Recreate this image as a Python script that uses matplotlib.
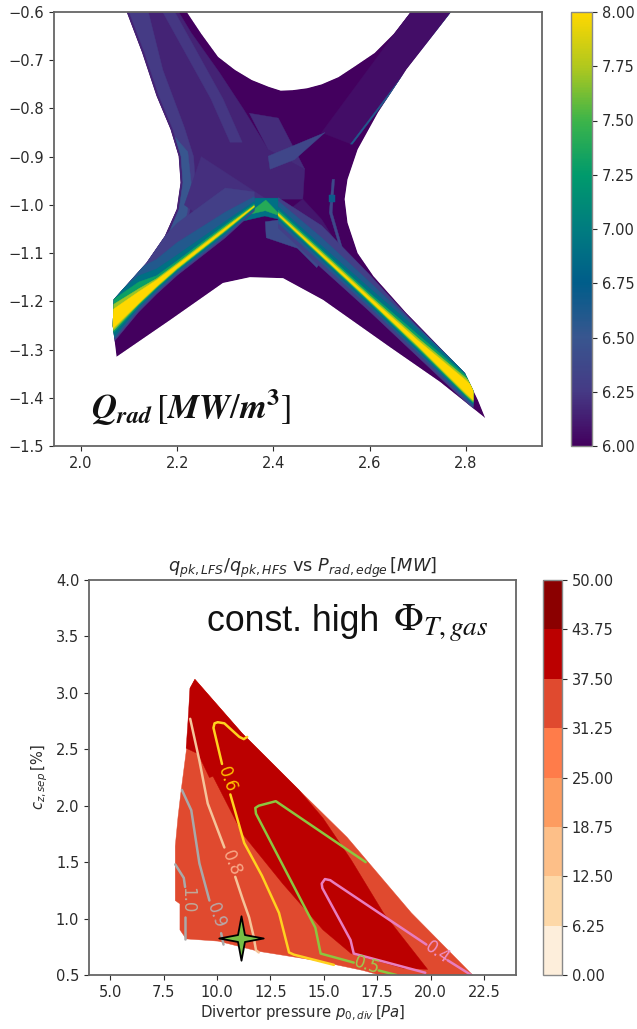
import numpy as np
import matplotlib
matplotlib.use("Agg")
import matplotlib.pyplot as plt
from matplotlib.collections import PolyCollection
from matplotlib.colors import Normalize, BoundaryNorm, LinearSegmentedColormap, ListedColormap
from matplotlib.cm import ScalarMappable
from matplotlib.patches import Polygon
from matplotlib.path import Path

# --- upper panel: Qrad map on the X-point divertor region
outline_r = [2.095, 2.127, 2.157, 2.186, 2.203, 2.207, 2.199, 2.174, 2.136, 2.068, 2.066, 2.074, 2.185, 2.295, 2.351,
             2.42, 2.503, 2.642, 2.746, 2.84, 2.825, 2.798, 2.676, 2.608, 2.575, 2.554, 2.548, 2.554, 2.575, 2.617,
             2.676, 2.769, 2.685, 2.65, 2.61, 2.57, 2.535, 2.50, 2.47, 2.44, 2.415, 2.39, 2.355, 2.32, 2.285, 2.25, 2.22]
outline_z = [-0.6, -0.684, -0.774, -0.843, -0.899, -0.954, -1.009, -1.065, -1.12, -1.196, -1.25, -1.315, -1.239, -1.162,
             -1.15, -1.152, -1.197, -1.295, -1.367, -1.442, -1.405, -1.349, -1.224, -1.148, -1.10, -1.037, -0.988,
             -0.947, -0.885, -0.809, -0.719, -0.6, -0.6, -0.645, -0.685, -0.712, -0.735, -0.75, -0.758, -0.762, -0.763,
             -0.755, -0.741, -0.72, -0.693, -0.645, -0.6]

# patches of nearly constant Qrad, painted in order
centre_r = [2.095, 2.127, 2.157, 2.186, 2.203, 2.207, 2.199, 2.174, 2.136, 2.068, 2.385, 2.461, 2.465, 2.389, 2.338,
            2.288, 2.229, 2.203]
centre_z = [-0.6, -0.684, -0.774, -0.843, -0.899, -0.954, -1.009, -1.065, -1.12, -1.196, -0.988, -0.988, -0.926,
            -0.885, -0.802, -0.726, -0.643, -0.6]
edge_r = [2.10, 2.132, 2.162, 2.191, 2.208, 2.212, 2.204, 2.18, 2.142, 2.08, 2.11, 2.175, 2.222, 2.238, 2.234, 2.215,
          2.17, 2.14]
edge_z = [-0.6, -0.684, -0.774, -0.843, -0.899, -0.954, -1.009, -1.065, -1.12, -1.19, -1.19, -1.11, -1.03, -0.96,
          -0.90, -0.84, -0.72, -0.6]
edge2_r = [2.196, 2.208, 2.212, 2.204, 2.18, 2.165, 2.19, 2.22, 2.229, 2.222]
edge2_z = [-0.86, -0.899, -0.954, -1.009, -1.065, -1.09, -1.08, -1.02, -0.955, -0.89]
streak_r = [2.17, 2.27, 2.31, 2.335, 2.295, 2.195]
streak_z = [-0.6, -0.78, -0.87, -0.87, -0.78, -0.6]
inner_r = [2.25, 2.385, 2.30, 2.215]
inner_z = [-0.90, -0.988, -1.06, -1.00]
wedge_r = [2.389, 2.507, 2.444, 2.393]
wedge_z = [-0.899, -0.85, -0.906, -0.926]
fan_r = [2.41, 2.465, 2.389, 2.35]
fan_z = [-0.82, -0.926, -0.885, -0.81]
topright_r = [2.685, 2.769, 2.562, 2.50]
topright_z = [-0.6, -0.6, -0.874, -0.85]
lineup_r = [2.769, 2.773, 2.564, 2.560]
lineup_z = [-0.6, -0.6, -0.874, -0.874]
arc_r = [2.522, 2.516, 2.545, 2.550, 2.522, 2.527]
arc_z = [-0.947, -1.016, -1.113, -1.113, -1.016, -0.947]
spot_r = [2.516, 2.527, 2.527, 2.516]
spot_z = [-0.98, -0.98, -0.995, -0.995]
lowright_r = [2.461, 2.50, 2.55, 2.60, 2.70, 2.80, 2.42]
lowright_z = [-0.988, -1.03, -1.11, -1.15, -1.25, -1.35, -1.02]
under_r = [2.383, 2.385, 2.45, 2.49, 2.50, 2.42]
under_z = [-1.035, -1.068, -1.09, -1.13, -1.115, -1.03]
apex_r = [2.357, 2.413, 2.434, 2.382, 2.33]
apex_z = [-0.986, -0.986, -1.035, -1.023, -1.035]
apex2_r = [2.384, 2.344, 2.383, 2.417]
apex2_z = [-0.99, -1.021, -1.012, -1.024]

patches = [
    (6.15, centre_r, centre_z), (6.06, topright_r, topright_z), (6.26, edge_r, edge_z),
    (6.50, edge2_r, edge2_z), (6.24, streak_r, streak_z), (6.21, inner_r, inner_z),
    (6.19, fan_r, fan_z), (6.36, wedge_r, wedge_z), (6.60, lineup_r, lineup_z),
    (6.38, arc_r, arc_z), (6.70, spot_r, spot_z), (6.10, lowright_r, lowright_z),
    (6.40, under_r, under_z), (6.90, apex_r, apex_z), (7.40, apex2_r, apex2_z),
]

# two radiating legs, offsets above/below the peak line per level
ridge_levels = [6.3, 6.6, 6.9, 7.3, 7.7, 8.0]
left_r = [2.065, 2.12, 2.157, 2.20, 2.30, 2.36]
left_z = [-1.238, -1.192, -1.163, -1.128, -1.05, -1.003]
left_up = [[0.05, 0.075, 0.08, 0.09, 0.085, 0.03], [0.05, 0.06, 0.05, 0.05, 0.035, 0.02],
           [0.045, 0.045, 0.03, 0.024, 0.016, 0.01], [0.04, 0.032, 0.016, 0.012, 0.009, 0.005],
           [0.03, 0.018, 0.01, 0.007, 0.005, 0.002], [0.02, 0.012, 0.007, 0.004, 0.002, 0.0005]]
left_down = [[0.05, 0.03, 0.022, 0.018, 0.018, 0.01], [0.045, 0.025, 0.018, 0.014, 0.014, 0.007],
             [0.04, 0.02, 0.014, 0.01, 0.01, 0.005], [0.03, 0.017, 0.01, 0.007, 0.006, 0.003],
             [0.025, 0.014, 0.008, 0.005, 0.004, 0.002], [0.02, 0.012, 0.006, 0.003, 0.002, 0.0005]]
right_r = [2.41, 2.50, 2.60, 2.70, 2.80, 2.815]
right_z = [-1.02, -1.103, -1.195, -1.287, -1.379, -1.393]
right_up = [[0.035, 0.06, 0.05, 0.033, 0.03, 0.03], [0.028, 0.035, 0.035, 0.033, 0.03, 0.03],
            [0.016, 0.018, 0.022, 0.028, 0.03, 0.03], [0.009, 0.01, 0.012, 0.018, 0.025, 0.025],
            [0.004, 0.006, 0.007, 0.011, 0.02, 0.02], [0.001, 0.002, 0.003, 0.006, 0.015, 0.015]]
right_down = [[0.028, 0.028, 0.026, 0.028, 0.03, 0.03], [0.018, 0.018, 0.018, 0.02, 0.025, 0.025],
              [0.011, 0.011, 0.012, 0.015, 0.02, 0.02], [0.006, 0.006, 0.008, 0.011, 0.018, 0.018],
              [0.003, 0.004, 0.005, 0.008, 0.015, 0.015], [0.001, 0.002, 0.003, 0.005, 0.012, 0.012]]
viridis_print = ["#43005e", "#453a85", "#38568f", "#005d8a", "#007c80", "#009a6c", "#3cb44a", "#b0c81e", "#ffd800"]

# --- lower panel: operating space
cbar_levels = [0.0, 6.25, 12.5, 18.75, 25.0, 31.25, 37.5, 43.75, 50.0]
band_colors = ["#fdeedb", "#fdd8a8", "#fdbf88", "#fd9c60", "#ff7c4a", "#e04a2f", "#bb0000", "#8b0000"]
outer_x = [8.96, 8.73, 8.73, 8.58, 8.3, 8.17, 8.04, 8.04, 8.26, 8.26, 8.55, 10.05, 11.94, 14.58, 16.84, 17.6, 21.97,
           19.1, 16.09, 13.83, 11.18]
outer_y = [3.12, 3.04, 2.79, 2.52, 2.11, 1.90, 1.64, 1.16, 1.13, 0.90, 0.82, 0.80, 0.71, 0.63, 0.54, 0.5, 0.5,
           1.05, 1.72, 2.14, 2.64]
inner_x = [8.96, 8.73, 8.64, 8.55, 9.11, 9.64, 9.81, 11.19, 13.07, 14.96, 16.28, 18.73, 19.86, 17.79, 16.28, 14.96,
           13.83, 11.18]
inner_y = [3.12, 3.04, 2.76, 2.51, 2.46, 2.25, 2.26, 1.75, 1.31, 0.90, 0.69, 0.56, 0.55, 1.05, 1.52, 1.89, 2.14, 2.64]

contours = [
    ("#ffd21f", [10.23, 9.83, 9.88, 10.03, 10.34, 11.04, 11.25, 11.41], [2.37, 2.69, 2.73, 2.74, 2.73, 2.61, 2.59, 2.61]),
    ("#ffd21f", [10.62, 11.27, 12.1, 12.9, 13.37, 13.6, 15.47], [2.1, 1.67, 1.38, 1.05, 0.70, 0.68, 0.59]),
    ("#8cc63f", [16.96, 12.75, 11.95, 11.79, 11.82, 14.6, 14.85, 16.4], [1.5, 2.04, 2.0, 1.98, 1.93, 0.92, 0.69, 0.61]),
    ("#8cc63f", [17.57, 18.4], [0.54, 0.5]),
    ("#e87ec0", [19.8, 15.45, 15.3, 15.05, 14.9, 14.93, 16.25, 16.4, 19.75],
     [0.77, 1.32, 1.34, 1.35, 1.31, 1.27, 0.81, 0.69, 0.52]),
    ("#e87ec0", [20.8, 21.9], [0.63, 0.5]),
    ("#f5c49a", [8.74, 9.17, 9.56, 10.34], [2.77, 2.40, 2.02, 1.63]),
    ("#f5c49a", [10.85, 11.2, 11.5, 11.7, 11.82, 11.95], [1.37, 1.17, 1.01, 0.85, 0.72, 0.70]),
    ("#a9a9a9", [8.35, 8.79, 9.17, 9.64], [2.14, 1.96, 1.49, 1.16]),
    ("#a9a9a9", [10.19, 10.3], [0.87, 0.77]),
    ("#a9a9a9", [8.04, 8.44, 8.5], [1.48, 1.36, 1.28]),
    ("#a9a9a9", [8.5, 8.5], [1.01, 0.82]),
]
contour_labels = [("0.6", "#ffc000", 10.45, 2.23, -70), ("0.5", "#9ccc50", 17.03, 0.59, -18),
                  ("0.4", "#ee90c8", 20.33, 0.70, -35), ("0.8", "#f8a888", 10.65, 1.49, -68),
                  ("0.9", "#b8a8a8", 9.95, 1.03, -70), ("1.0", "#c0a898", 8.6, 1.16, -90)]
star_x = [11.1]
star_y = [0.83]

W, H = 637, 1029
INK = "#2a2a2a"
FRAME = "#666666"
plt.rcParams.update({"font.family": "DejaVu Sans", "font.size": 10.5, "text.color": INK,
                     "axes.edgecolor": FRAME, "axes.labelcolor": INK, "xtick.color": INK,
                     "ytick.color": INK, "axes.linewidth": 1.3})


def px_axes(fig, left, top, right, bottom):
    return fig.add_axes([left / W, 1 - bottom / H, (right - left) / W, (bottom - top) / H])


def ridge_polys(r, z, up, down):
    r = np.array(r)
    z = np.array(z)
    polys = []
    for u, d in zip(up, down):
        top = np.column_stack([r, z + np.array(u)])
        low = np.column_stack([r, z - np.array(d)])[::-1]
        polys.append(np.vstack([top, low]))
    return polys


fig = plt.figure(figsize=(W / 100, H / 100), dpi=100)

# upper map
ax1 = px_axes(fig, 54, 12, 542, 446)
cmap1 = LinearSegmentedColormap.from_list("viridis_print", viridis_print)
norm1 = Normalize(6, 8)
clip = Polygon(np.column_stack([outline_r, outline_z]), closed=True, facecolor="none", edgecolor="none",
               transform=ax1.transData)
ax1.add_patch(clip)
polys = [np.column_stack([outline_r, outline_z])]
vals = [6.0]
for v, pr, pz in patches:
    polys.append(np.column_stack([pr, pz]))
    vals.append(v)
left_polys = ridge_polys(left_r, left_z, left_up, left_down)
right_polys = ridge_polys(right_r, right_z, right_up, right_down)
for lev_i, lev in enumerate(ridge_levels):
    polys += [left_polys[lev_i], right_polys[lev_i]]
    vals += [lev, lev]
coll = PolyCollection(polys, array=np.array(vals), cmap=cmap1, norm=norm1, edgecolors="face", linewidths=0.3)
ax1.add_collection(coll)
coll.set_clip_path(clip)
ax1.set_xlim(1.944, 2.958)
ax1.set_ylim(-1.5, -0.6)
ax1.set_xticks([2.0, 2.2, 2.4, 2.6, 2.8])
ax1.set_yticks(np.arange(-1.5, -0.55, 0.1))
ax1.text(2.02, -1.42, r"$\mathbfit{Q}_{\mathbfit{rad}}\,\left[\mathbfit{MW}/\mathbfit{m}^{\mathbf{3}}\right]$",
         fontsize=25, color="#111111", math_fontfamily="stix", va="center", ha="left")

cax1 = px_axes(fig, 571, 12, 592, 446)
cb1 = fig.colorbar(ScalarMappable(norm=norm1, cmap=cmap1), cax=cax1)
cb1.set_ticks(np.arange(6, 8.01, 0.25))
cb1.ax.set_yticklabels([f"{t:.2f}" for t in np.arange(6, 8.01, 0.25)])
cb1.outline.set_edgecolor("#888888")
cb1.outline.set_linewidth(1)

# lower map
ax2 = px_axes(fig, 89, 580, 516, 975)
cmap2 = ListedColormap(band_colors)
norm2 = BoundaryNorm(cbar_levels, cmap2.N)
coll2 = PolyCollection([np.column_stack([outer_x, outer_y]), np.column_stack([inner_x, inner_y])],
                       array=np.array([34.0, 40.0]), cmap=cmap2, norm=norm2, edgecolors="face", linewidths=0.3)
ax2.add_collection(coll2)
for col, cx, cy in contours:
    ax2.plot(cx, cy, color=col, lw=1.8, solid_joinstyle="round", solid_capstyle="round")
for txt, col, tx, ty, rot in contour_labels:
    ax2.text(tx, ty, txt, color=col, fontsize=12, rotation=rot, ha="center", va="center", rotation_mode="anchor")
star = Path.unit_regular_star(4, innerCircle=0.22)
ax2.plot(star_x, star_y, linestyle="none", marker=star, ms=32, mfc="#76bf45", mec="black", mew=1.3, zorder=5)
ax2.set_xlim(4, 24)
ax2.set_ylim(0.5, 4.0)
ax2.set_xticks(np.arange(5, 22.6, 2.5))
ax2.set_yticks(np.arange(0.5, 4.01, 0.5))
ax2.set_xlabel(r"Divertor pressure $p_{0,div}\,[Pa]$", fontsize=10.7, labelpad=3)
ax2.set_ylabel(r"$c_{z,sep}\,[\%]$", fontsize=10.5, labelpad=4)
ax2.set_title(r"$q_{pk,LFS}/q_{pk,HFS}$ vs $P_{rad,edge}\,[MW]$", fontsize=12.8, pad=5)
ax2.text(0.277, 0.895, "const. high", transform=ax2.transAxes, fontsize=25.7,
         family="Liberation Sans", color="#111111", va="center", ha="left")
ax2.text(0.712, 0.89, r"$\Phi_{T,gas}$", transform=ax2.transAxes, fontsize=28,
         math_fontfamily="stix", color="#111111", va="center", ha="left")

cax2 = px_axes(fig, 543, 580, 562, 975)
cb2 = fig.colorbar(ScalarMappable(norm=norm2, cmap=cmap2), cax=cax2, spacing="proportional", ticks=cbar_levels)
cb2.ax.set_yticklabels([f"{t:.2f}" for t in cbar_levels])
cb2.outline.set_edgecolor("#888888")
cb2.outline.set_linewidth(1)

fig.savefig("out.png", dpi=100)
